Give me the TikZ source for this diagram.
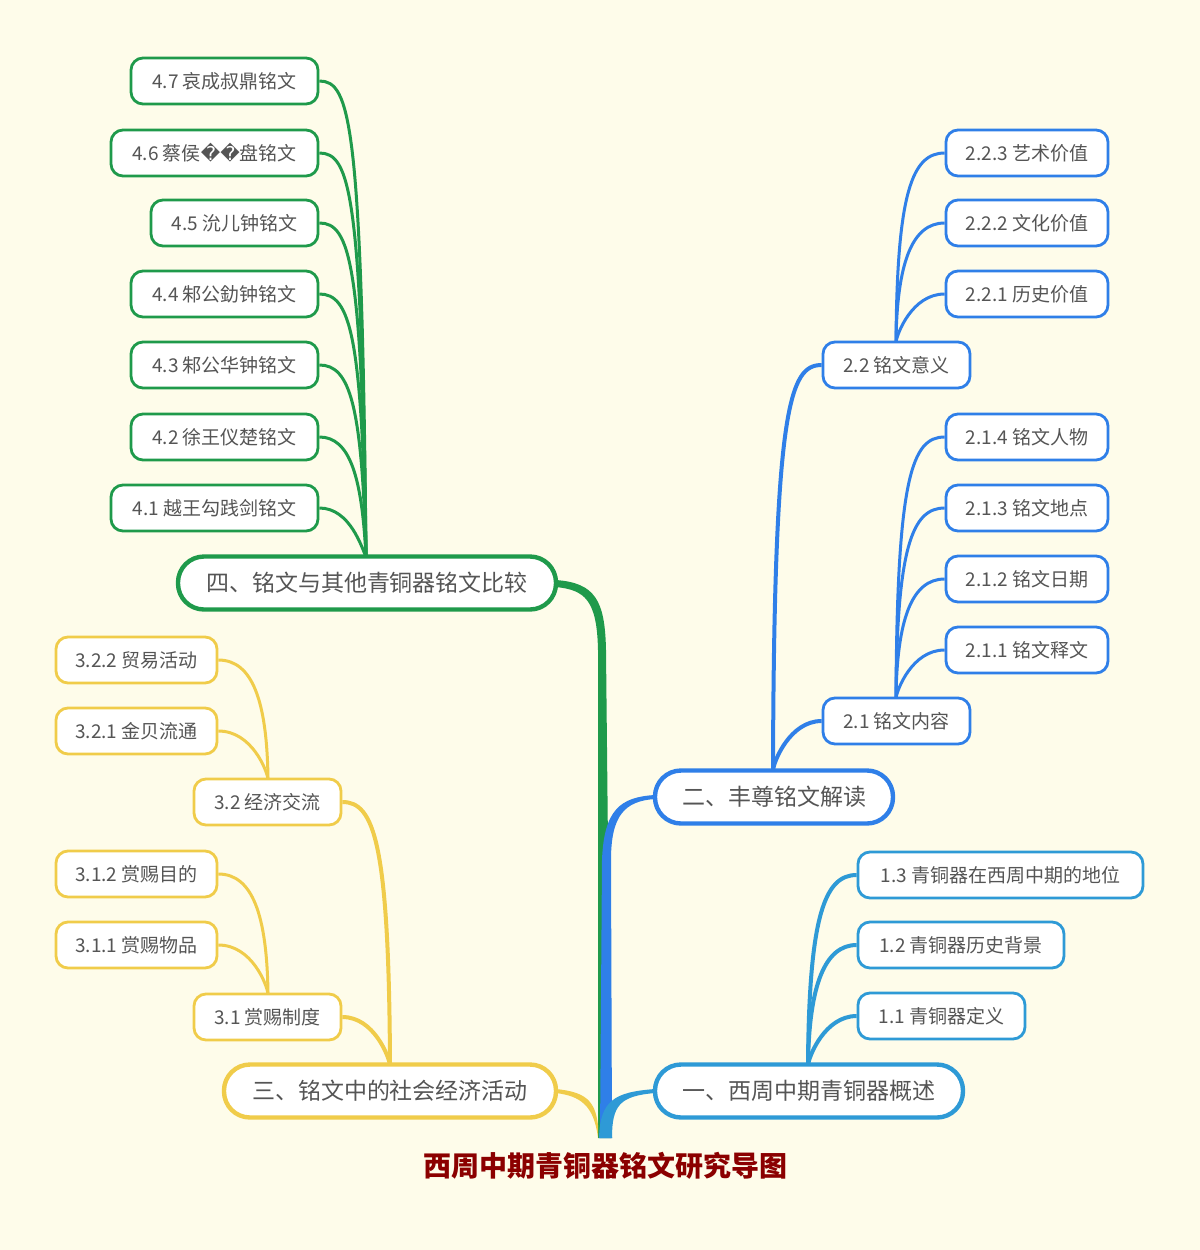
\documentclass[tikz,border=0pt]{standalone}
\usepackage{fontspec}
\setmainfont{Noto Sans CJK SC}
\newfontfamily\dv{DejaVu Sans}
\definecolor{bg}{HTML}{FEFCEA}
\definecolor{cg}{HTML}{1F9A4B}
\definecolor{cb}{HTML}{2F7FE8}
\definecolor{cl}{HTML}{2E9AD6}
\definecolor{cy}{HTML}{F0CC4A}
\definecolor{tx}{HTML}{555555}
\definecolor{ttl}{HTML}{8B0000}
\tikzset{
 leaf/.style={draw, line width=1.4pt, rounded corners=6pt, fill=white, text=tx, minimum height=23pt, inner sep=0pt, font=\fontsize{9.5}{11}\selectfont},
 mainnode/.style={draw, line width=2.2pt, rounded corners=13pt, fill=white, text=tx, minimum height=26.5pt, inner sep=0pt, font=\fontsize{11.5}{13}\selectfont},
 br/.style={line width=1.5pt},
}
\begin{document}
\begin{tikzpicture}[x=0.5pt,y=-0.5pt]
\fill[bg] (0,0) rectangle (1200,1250);
\useasboundingbox (0,0) rectangle (1200,1250);
% trunk branches
\fill[cg] (598,1138) -- (598,650) .. controls (597,600) and (585,590) .. (556,587) -- (556,580) .. controls (595,583) and (605,600) .. (606,650) -- (611,1138) -- cycle;
\fill[cb] (600,1138) -- (602,860) .. controls (604,810) and (620,797) .. (655,795) -- (655,799) .. controls (625,801) and (611,815) .. (611,860) -- (612,1138) -- cycle;
\fill[cl] (599,1138) .. controls (600,1100) and (615,1092) .. (655,1089) -- (655,1093) .. controls (620,1096) and (612,1105) .. (612,1138) -- cycle;
\fill[cy] (598,1125) .. controls (595,1100) and (585,1092) .. (556,1089) -- (556,1093) .. controls (580,1096) and (594,1105) .. (598,1138) -- cycle;
% nodes
\node[mainnode,draw=cg,minimum width=189pt] (g) at (367,583) {四、铭文与其他青铜器铭文比较};
\node[leaf,draw=cg,minimum width=93.5pt] (g7) at (224.5,81) {4.7 哀成叔鼎铭文};
\node[leaf,draw=cg,minimum width=103.5pt] (g6) at (214.5,153) {4.6 蔡侯{\dv ��}盘铭文};
\node[leaf,draw=cg,minimum width=83.5pt] (g5) at (234.5,223) {4.5 沇儿钟铭文};
\node[leaf,draw=cg,minimum width=93.5pt] (g4) at (224.5,294) {4.4 邾公釛钟铭文};
\node[leaf,draw=cg,minimum width=93.5pt] (g3) at (224.5,365) {4.3 邾公华钟铭文};
\node[leaf,draw=cg,minimum width=93.5pt] (g2) at (224.5,437) {4.2 徐王仪楚铭文};
\node[leaf,draw=cg,minimum width=103.5pt] (g1) at (214.5,508) {4.1 越王勾践剑铭文};
\foreach \n/\y in {g7/81,g6/153,g5/223,g4/294,g3/365,g2/437,g1/508}
  \draw[cg,br] (366,557) .. controls (362,\y+40) and (350,\y) .. (\n.east);
% blue
\node[mainnode,draw=cb,minimum width=119pt] (b) at (774,797) {二、丰尊铭文解读};
\node[leaf,draw=cb,minimum width=73.5pt] (b2) at (896.5,365) {2.2 铭文意义};
\node[leaf,draw=cb,minimum width=73.5pt] (b1) at (896.5,721) {2.1 铭文内容};
\node[leaf,draw=cb,minimum width=81pt] (b23) at (1027,153) {2.2.3 艺术价值};
\node[leaf,draw=cb,minimum width=81pt] (b22) at (1027,223) {2.2.2 文化价值};
\node[leaf,draw=cb,minimum width=81pt] (b21) at (1027,294) {2.2.1 历史价值};
\node[leaf,draw=cb,minimum width=81pt] (b14) at (1027,437) {2.1.4 铭文人物};
\node[leaf,draw=cb,minimum width=81pt] (b13) at (1027,508) {2.1.3 铭文地点};
\node[leaf,draw=cb,minimum width=81pt] (b12) at (1027,579) {2.1.2 铭文日期};
\node[leaf,draw=cb,minimum width=81pt] (b11) at (1027,650) {2.1.1 铭文释文};
\foreach \n/\y in {b23/153,b22/223,b21/294}
  \draw[cb,br] (896,342) .. controls (897,\y+40) and (912,\y) .. (\n.west);
\foreach \n/\y in {b14/437,b13/508,b12/579,b11/650}
  \draw[cb,br] (896,698) .. controls (897,\y+40) and (912,\y) .. (\n.west);
\foreach \n/\y in {b2/365,b1/721}
  \draw[cb,line width=2pt] (773,770) .. controls (774,\y+40) and (790,\y) .. (\n.west);
% light blue
\node[mainnode,draw=cl,minimum width=154pt] (l) at (809,1091) {一、西周中期青铜器概述};
\node[leaf,draw=cl,minimum width=142.5pt] (l3) at (1000.5,875) {1.3 青铜器在西周中期的地位};
\node[leaf,draw=cl,minimum width=103pt] (l2) at (961,945) {1.2 青铜器历史背景};
\node[leaf,draw=cl,minimum width=83.5pt] (l1) at (941.5,1016) {1.1 青铜器定义};
\foreach \n/\y in {l3/875,l2/945,l1/1016}
  \draw[cl,line width=2pt] (808,1065) .. controls (809,\y+40) and (825,\y) .. (\n.west);
% yellow
\node[mainnode,draw=cy,minimum width=166pt] (y) at (390,1091) {三、铭文中的社会经济活动};
\node[leaf,draw=cy,minimum width=73.5pt] (y2) at (267.5,802) {3.2 经济交流};
\node[leaf,draw=cy,minimum width=73.5pt] (y1) at (267.5,1017) {3.1 赏赐制度};
\node[leaf,draw=cy,minimum width=80.5pt] (y22) at (136.5,660) {3.2.2 贸易活动};
\node[leaf,draw=cy,minimum width=80.5pt] (y21) at (136.5,731) {3.2.1 金贝流通};
\node[leaf,draw=cy,minimum width=80.5pt] (y12) at (136.5,874) {3.1.2 赏赐目的};
\node[leaf,draw=cy,minimum width=80.5pt] (y11) at (136.5,945) {3.1.1 赏赐物品};
\foreach \n/\y in {y22/660,y21/731}
  \draw[cy,br] (268,779) .. controls (267,\y+40) and (252,\y) .. (\n.east);
\foreach \n/\y in {y12/874,y11/945}
  \draw[cy,br] (268,994) .. controls (267,\y+40) and (252,\y) .. (\n.east);
\foreach \n/\y in {y2/802,y1/1017}
  \draw[cy,line width=2pt] (390,1065) .. controls (389,\y+40) and (374,\y) .. (\n.east);
% title
\node[text=ttl,font=\bfseries\fontsize{14}{16}\selectfont] (t) at (605,1166) {西周中期青铜器铭文研究导图};
\end{tikzpicture}
\end{document}
